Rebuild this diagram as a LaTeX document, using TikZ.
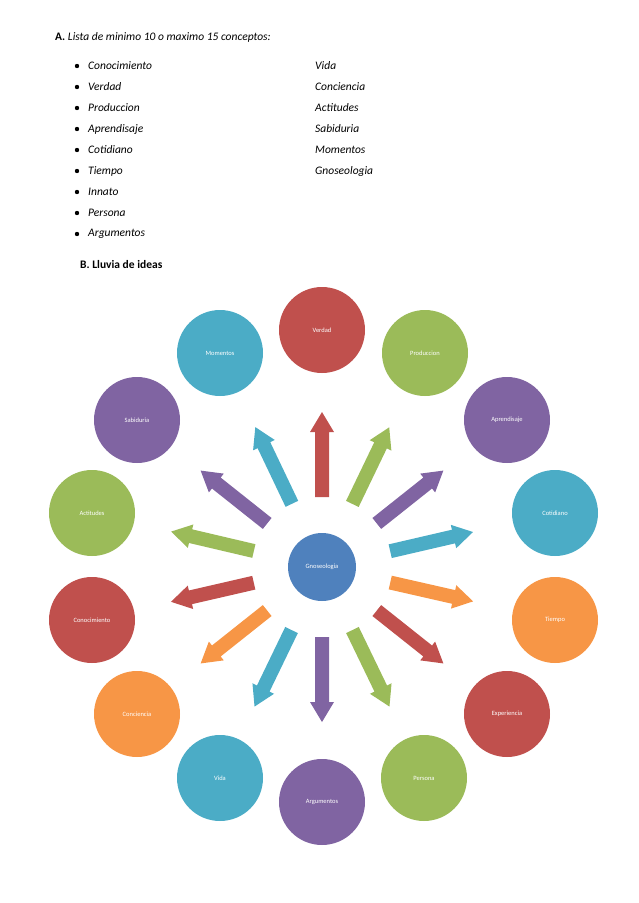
\documentclass[tikz,border=0pt]{standalone}
\usepackage{fontspec}
\setmainfont{Carlito}
\usetikzlibrary{calc}
\definecolor{cred}{HTML}{C0504D}
\definecolor{cgreen}{HTML}{9BBB59}
\definecolor{cpurple}{HTML}{8064A2}
\definecolor{cteal}{HTML}{4BACC6}
\definecolor{corange}{HTML}{F79646}
\definecolor{cblue}{HTML}{4F81BD}
\begin{document}
\begin{tikzpicture}[x=1pt,y=-1pt,
  ball/.style={circle,minimum size=86pt,inner sep=0pt,text=white,font=\fontsize{6.5}{7}\selectfont},
  item/.style={anchor=west,font=\fontsize{11.5}{13}\selectfont\itshape,inner sep=0pt}]
\useasboundingbox (0,0) rectangle (638,903);
\node[anchor=west,inner sep=0pt,font=\fontsize{11.5}{13}\selectfont] (ta) at (55,37) {\textbf{A.} \textit{Lista de minimo 10 o maximo 15 conceptos:}};
\foreach \t [count=\i] in {Conocimiento,Verdad,Produccion,Aprendisaje,Cotidiano,Tiempo,Innato,Persona,Argumentos}{
  \node[item] (l\i) at (88,{45+21*\i}) {\t};
  \fill (77,{45+21*\i}) circle (2.2);
}
\foreach \t [count=\i] in {Vida,Conciencia,Actitudes,Sabiduria,Momentos,Gnoseologia}{
  \node[item] (r\i) at (315,{45+21*\i}) {\t};
}
\node[anchor=west,inner sep=0pt,font=\fontsize{11.5}{13}\selectfont\bfseries] (tb) at (80,265) {B. Lluvia de ideas};
\node[ball,fill=cblue,minimum size=68pt] (c) at (322,567) {Gnoseologia};
\foreach \nm/\px/\py/\col in {Verdad/322/330/cred,Produccion/425/353/cgreen,Aprendisaje/507/420/cpurple,Cotidiano/555/513/cteal,Tiempo/555/620/corange,Experiencia/507/714/cred,Persona/424/778/cgreen,Argumentos/322/802/cpurple,Vida/220/778/cteal,Conciencia/137/714/corange,Conocimiento/92/620/cred,Actitudes/92/513/cgreen,Sabiduria/137/420/cpurple,Momentos/220/353/cteal}{
  \node[ball,fill=\col] (\nm) at (\px,\py) {\nm};
  \path let \p1=($(\nm.center)-(c.center)$), \n1={atan2(\y1,\x1)} in
    [fill=\col] ($(c.center)+(\n1:70pt)+(\n1+90:7pt)$) -- ($(c.center)+(\n1:135pt)+(\n1+90:7pt)$) -- ($(c.center)+(\n1:135pt)+(\n1+90:12pt)$) -- ($(c.center)+(\n1:155pt)$) -- ($(c.center)+(\n1:135pt)+(\n1-90:12pt)$) -- ($(c.center)+(\n1:135pt)+(\n1-90:7pt)$) -- ($(c.center)+(\n1:70pt)+(\n1-90:7pt)$) -- cycle;
}
\end{tikzpicture}
\end{document}
